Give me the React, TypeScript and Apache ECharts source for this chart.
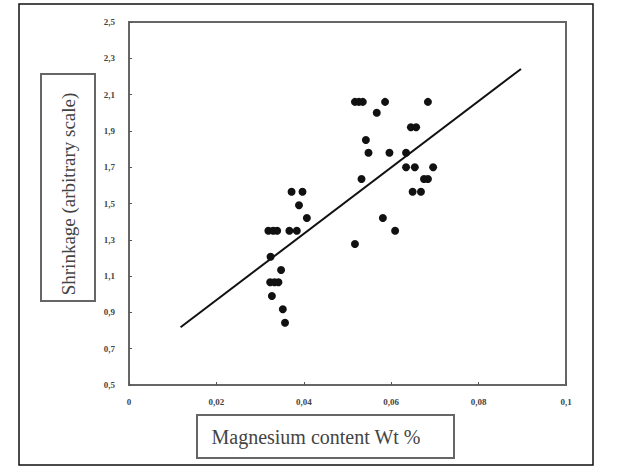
import React, { useEffect, useRef } from "react";
import * as echarts from "echarts";

const xTickLabels = ["0", "0,02", "0,04", "0,06", "0,08", "0,1"];
const magnesium = [
  0.0517, 0.0526, 0.0535, 0.0586, 0.0684,
  0.0567,
  0.0645, 0.0657,
  0.0542,
  0.0548, 0.0596, 0.0634,
  0.0634, 0.0654, 0.0696,
  0.0532, 0.0675, 0.0684,
  0.0649, 0.0668,
  0.0372, 0.0397,
  0.0389,
  0.0407,
  0.0581,
  0.0319, 0.033, 0.0339, 0.0367, 0.0384,
  0.0609,
  0.0517,
  0.0324,
  0.0348,
  0.0323, 0.0333, 0.0342,
  0.0327,
  0.0352,
  0.0357,
];
const shrinkage = [
  2.06, 2.06, 2.06, 2.06, 2.06,
  2.0,
  1.92, 1.92,
  1.85,
  1.78, 1.78, 1.78,
  1.7, 1.7, 1.7,
  1.635, 1.635, 1.635,
  1.565, 1.565,
  1.565, 1.565,
  1.49,
  1.42,
  1.42,
  1.35, 1.35, 1.35, 1.35, 1.35,
  1.35,
  1.277,
  1.207,
  1.134,
  1.066, 1.066, 1.066,
  0.99,
  0.917,
  0.843,
];
const trendX = [0.0118, 0.0897];
const trendY = [0.818, 2.241];

const FONT = "Liberation Serif";

export default function App() {
  const ref = useRef<HTMLDivElement>(null);
  useEffect(() => {
    if (!ref.current) return;
    const chart = echarts.init(ref.current, null, { renderer: "svg" });
    const points = magnesium.map((x, i) => [x, shrinkage[i]]);
    const trend = trendX.map((x, i) => [x, trendY[i]]);
    chart.setOption({
      animation: false,
      backgroundColor: "#fff",
      grid: {
        left: 129,
        top: 22,
        width: 437,
        height: 363,
        show: true,
        borderColor: "#666",
        borderWidth: 2,
        backgroundColor: "transparent",
      },
      xAxis: {
        type: "value",
        min: 0,
        max: 0.1,
        interval: 0.02,
        splitLine: { show: false },
        axisLine: { lineStyle: { color: "#666", width: 2 } },
        axisTick: { show: true, inside: true, length: 3, lineStyle: { color: "#555" } },
        axisLabel: {
          margin: 12,
          fontFamily: FONT,
          fontSize: 9,
          fontWeight: "bold",
          color: "#444",
          formatter: (v: number) => xTickLabels[Math.round(v / 0.02)] ?? "",
        },
      },
      yAxis: {
        type: "value",
        min: 0.5,
        max: 2.5,
        interval: 0.2,
        splitLine: { show: false },
        axisLine: { lineStyle: { color: "#666", width: 2 } },
        axisTick: { show: true, inside: true, length: 3, lineStyle: { color: "#555" } },
        axisLabel: {
          margin: 14,
          fontFamily: FONT,
          fontSize: 9,
          fontWeight: "bold",
          color: "#444",
          formatter: (v: number) => v.toFixed(1).replace(".", ","),
        },
      },
      series: [
        {
          type: "scatter",
          data: points,
          symbol: "circle",
          symbolSize: 8,
          itemStyle: { color: "#111", opacity: 1 },
        },
        {
          type: "line",
          data: trend,
          symbol: "none",
          lineStyle: { color: "#111", width: 2 },
        },
      ],
      graphic: [
        {
          type: "rect",
          shape: { x: 19, y: 4, width: 574, height: 461 },
          style: { fill: "none", stroke: "#111", lineWidth: 1.5 },
        },
        {
          type: "rect",
          shape: { x: 41, y: 74, width: 54, height: 227 },
          style: { fill: "#fff", stroke: "#666", lineWidth: 2 },
        },
        {
          type: "text",
          x: 68,
          y: 194,
          rotation: Math.PI / 2,
          style: {
            text: "Shrinkage (arbitrary scale)",
            font: `19px "${FONT}"`,
            fill: "#444",
            align: "center",
            verticalAlign: "middle",
          },
        },
        {
          type: "rect",
          shape: { x: 197, y: 415, width: 257, height: 43 },
          style: { fill: "#fff", stroke: "#666", lineWidth: 2 },
        },
        {
          type: "text",
          x: 316,
          y: 437,
          style: {
            text: "Magnesium content Wt %",
            font: `20px "${FONT}"`,
            fill: "#444",
            align: "center",
            verticalAlign: "middle",
          },
        },
      ],
    });
    return () => chart.dispose();
  }, []);
  return (
    <div
      ref={ref}
      style={{ position: "fixed", left: 0, top: 0, width: 617, height: 466 }}
    />
  );
}
